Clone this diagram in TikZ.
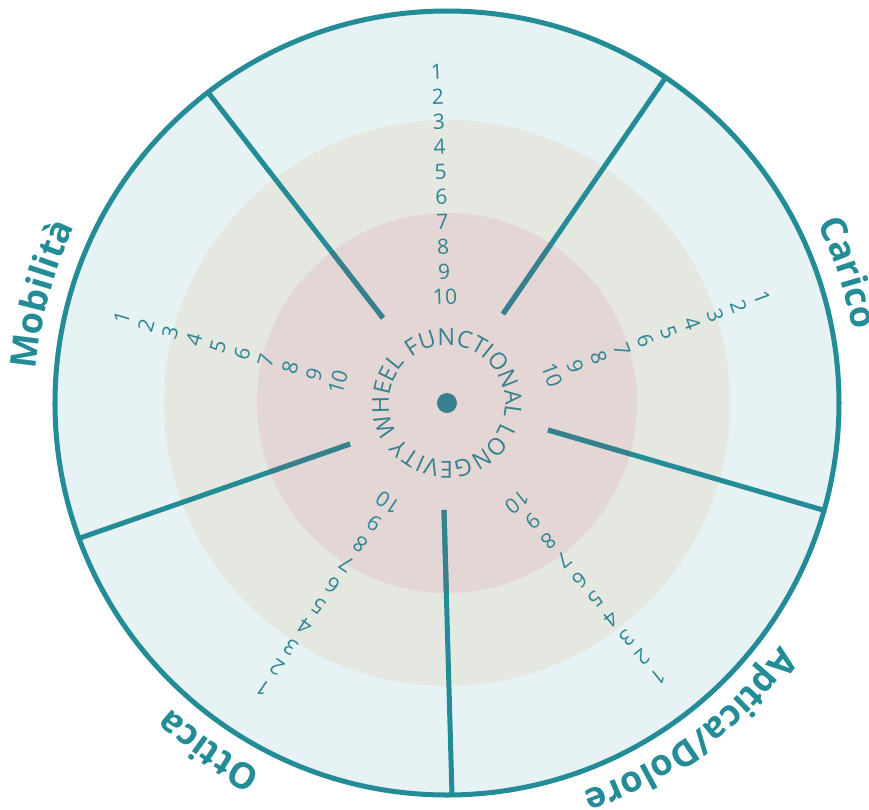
\documentclass[tikz,border=0pt]{standalone}
\usepackage{fontspec}
\setmainfont{Open Sans}
\usepackage{xcolor}
\usepackage{tikz}
\usetikzlibrary{calc, decorations.text}

\definecolor{wheelteal}{HTML}{238C97}
\definecolor{wheeldark}{HTML}{37818F}
\definecolor{wheeltext}{HTML}{2E8693}
\definecolor{ringouter}{HTML}{E6F2F4}
\definecolor{ringmid}{HTML}{E5E7E1}
\definecolor{ringinner}{HTML}{E4D6D5}

\def\dividerlist{-64/85/-240/312, 56/89/219/326, 101/-27/376/-107, -3/-107/5/-392, -97/-41/-367/-135}

\tikzset{
    divider/.style={wheelteal, line width=2.85pt},
    scorenum/.style={text=wheeltext, font=\fontsize{12}{12}\selectfont, inner sep=0pt},
    arealabel/.style={decorate, decoration={text along path, text align=center, text color=wheelteal,
        text={|\fontsize{20.5}{20.5}\selectfont\bfseries|#1}}}
}

\begin{document}
\begin{tikzpicture}[x=0.02cm, y=0.02cm]
    \useasboundingbox (-447,-406) rectangle (422,403);
    \fill[ringouter] (0,0) circle[radius=392];
    \fill[ringmid] (0,0) circle[radius=283];
    \fill[ringinner] (0,0) circle[radius=190];
    \draw[wheelteal, line width=2.85pt] (0,0) circle[radius=392];
    \foreach \ix/\iy/\ox/\oy in \dividerlist
        \draw[divider] (\ix,\iy) -- (\ox,\oy);
    \begin{scope}
        \clip (0,0) circle[radius=190];
        \foreach \ix/\iy/\ox/\oy in \dividerlist
            \draw[divider, wheeldark] (\ix,\iy) -- (\ox,\oy);
    \end{scope}
    \foreach \ax/\ay/\bx/\by/\r [count=\c] in {-10/331/-2/106/2, -325/85/-109/21/73.5,
        -184/-285/-59/-100/145.9, 211/-274/70/-99/218.9, 315/105/105/28/-69.9} {
        \foreach \n in {1,...,10}
            \node[scorenum, rotate=\r] (s\c-\n) at ($(\ax,\ay)!{(\n-1)/9}!(\bx,\by)$) {\n};
    }
    \fill[wheeldark] (0,0) circle[radius=10];
    \path[decorate, decoration={text along path, text color=wheeldark,
        text={|\fontsize{13.3}{13.3}\selectfont|FUNCTIONAL LONGEVITY WHEEL}}]
        (128:58) arc[start angle=128, end angle=-230, radius=58];
    \path[arealabel={Mobilità}] (195:412) arc[start angle=195, end angle=135, radius=412];
    \path[arealabel={Carico}] (48:412) arc[start angle=48, end angle=-12, radius=412];
    \path[arealabel={Aptica/Dolore}] (336.6:412) arc[start angle=336.6, end angle=276.6, radius=412];
    \path[arealabel={Ottica}] (265.5:412) arc[start angle=265.5, end angle=205.5, radius=412];
\end{tikzpicture}
\end{document}
